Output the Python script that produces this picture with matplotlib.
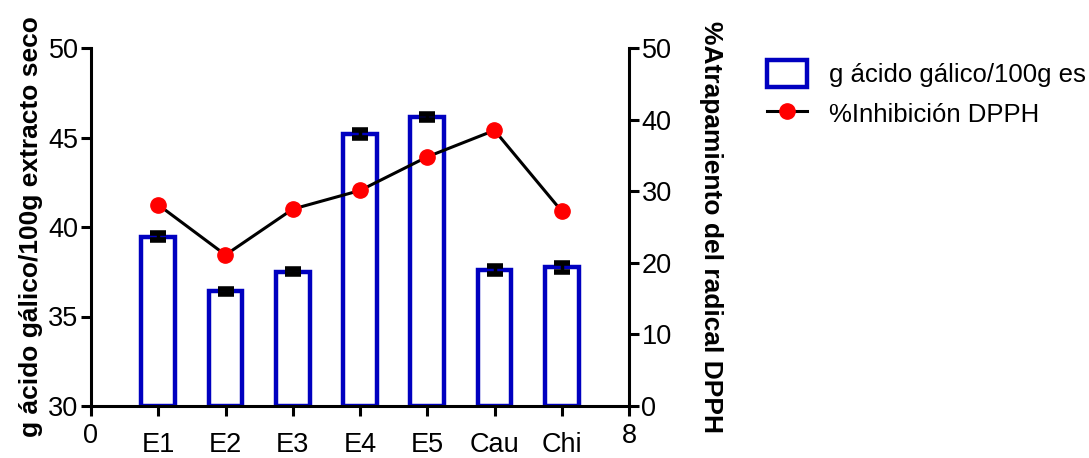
import numpy as np
import matplotlib
matplotlib.use('Agg')
import matplotlib.pyplot as plt
from matplotlib.ticker import FixedLocator

plt.rcParams['font.family'] = ['Liberation Sans', 'DejaVu Sans']

# data
muestras = ['E1', 'E2', 'E3', 'E4', 'E5', 'Cau', 'Chi']
acido_galico = [39.45, 36.4, 37.5, 45.2, 46.15, 37.6, 37.75]
acido_err = [0.2, 0.15, 0.15, 0.2, 0.15, 0.2, 0.25]
inhibicion = [28.1, 21.1, 27.5, 30.1, 34.8, 38.5, 27.2]

azul = '#0000C0'
pos = np.arange(1, len(muestras) + 1)

fig = plt.figure(figsize=(10.89, 4.58), dpi=100)
ax = fig.add_axes([91/1089, 52/458, 538/1089, 358/458])

ax.bar(pos, np.array(acido_galico) - 30, bottom=30, width=0.5,
       facecolor='white', edgecolor=azul, linewidth=3.2,
       label='g ácido gálico/100g es', zorder=2)
ax.errorbar(pos, acido_galico, yerr=acido_err, fmt='none', ecolor='black',
            elinewidth=2.5, capsize=6, capthick=4, zorder=3)

ax.set_xlim(0, 8)
ax.set_ylim(30, 50)
ax.set_yticks([30, 35, 40, 45, 50])
ax.set_xticks([0, 8])
ax.xaxis.set_minor_locator(FixedLocator(pos))
ax.set_xticklabels(['0', '8'])
ax.set_xticklabels(muestras, minor=True)
for s in ['top', 'right']:
    ax.spines[s].set_visible(False)
for s in ['left', 'bottom']:
    ax.spines[s].set_linewidth(2.2)
ax.tick_params(axis='both', which='both', direction='out', length=7, width=2.2,
               labelsize=19.5)
ax.tick_params(axis='y', pad=2)
ax.tick_params(axis='x', which='major', pad=5)
ax.tick_params(axis='x', which='minor', pad=12)
ax.set_ylabel('g ácido gálico/100g extracto seco', fontsize=19,
              fontweight='bold', labelpad=4)

ax2 = ax.twinx()
ax2.plot(pos, inhibicion, color='black', linewidth=2.2, marker='o',
         markersize=11, markerfacecolor='red', markeredgecolor='red',
         label='%Inhibición DPPH', zorder=4)
ax2.set_ylim(0, 50)
ax2.set_yticks([0, 10, 20, 30, 40, 50])
for s in ['top', 'left', 'bottom']:
    ax2.spines[s].set_visible(False)
ax2.spines['right'].set_linewidth(2.2)
ax2.tick_params(axis='y', direction='out', length=7, width=2.2, labelsize=19.5,
                pad=2)
ax2.set_ylabel('%Atrapamiento del radical DPPH', fontsize=19,
               fontweight='bold', rotation=270, labelpad=37)

h1, l1 = ax.get_legend_handles_labels()
h2, l2 = ax2.get_legend_handles_labels()
fig.legend(h1 + h2, l1 + l2, loc='upper left', bbox_to_anchor=(757/1089, 1 - 50/458),
           frameon=False, fontsize=18.5, handlelength=1.55, handleheight=1.2,
           handletextpad=0.85, borderaxespad=0, labelspacing=0.5)

fig.savefig('out.png', dpi=100)
